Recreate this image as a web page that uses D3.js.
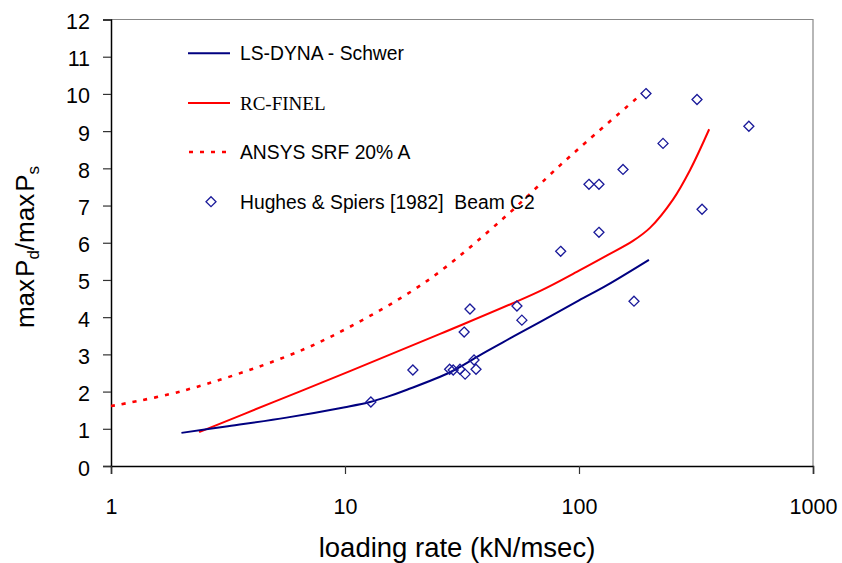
<!DOCTYPE html>
<html><head><meta charset="utf-8">
<script src="https://cdn.jsdelivr.net/npm/d3@7"></script>
<style>
html,body{margin:0;padding:0;background:#fff;}
svg text{fill:#000;}
</style></head>
<body><svg id="c" width="842" height="563"></svg>
<script>
// ---- data ----
const xTicks = [1, 10, 100, 1000];
const yTicks = [0,1,2,3,4,5,6,7,8,9,10,11,12];

const lsdynaX = [2, 3.16, 5.62, 10, 12.8, 15, 18.4, 28.1, 38.9, 50.7, 68, 100, 131.8, 199];
const lsdynaY = [0.89, 1.07, 1.30, 1.58, 1.72, 1.85, 2.05, 2.52, 3.03, 3.43, 3.87, 4.45, 4.86, 5.54];

const rcX = [2.38, 5, 10.5, 25.5, 68, 100, 131.8, 170, 201, 252, 298, 360];
const rcY = [0.91, 1.73, 2.55, 3.55, 4.70, 5.25, 5.66, 6.05, 6.40, 7.16, 7.95, 9.05];

const ansysX = [1, 2, 5.65, 10.2, 22.6, 47.4, 83, 108, 186];
const ansysY = [1.61, 2.01, 2.95, 3.70, 4.99, 6.65, 8.08, 8.72, 10.01];

const hughesX = [12.9, 19.5, 28.0, 29.0, 31.0, 32.6, 35.6, 36.3, 32.3, 34.2, 54.3, 57.0, 83.5, 121.7, 171.8, 335.6, 110.3, 121.7, 154.2, 228.6, 193.3, 319.4, 532];
const hughesY = [1.72, 2.58, 2.60, 2.58, 2.60, 2.47, 2.85, 2.60, 3.60, 4.22, 4.30, 3.92, 5.77, 6.28, 4.43, 6.90, 7.57, 7.57, 7.97, 8.67, 10.01, 9.85, 9.13];

const seriesNames = ["LS-DYNA - Schwer", "RC-FINEL", "ANSYS SRF 20% A", "Hughes & Spiers [1982]  Beam C2"];

// ---- layout ----
const SANS = "Arial, 'Liberation Sans', sans-serif";
const SERIF = "'Times New Roman', 'Liberation Serif', serif";
const L = 111, R = 813, T = 19.5, B = 466;
const svg = d3.select("#c");
const x = d3.scaleLog().domain([1, 1000]).range([L, R]);
const y = d3.scaleLinear().domain([0, 12]).range([B, T]);

// plot frame (top/right grey)
svg.append("path").attr("d", `M${L},${T}H${R}V${B}`).attr("fill","none").attr("stroke","#888").attr("stroke-width",1.2);

// axes
const yAxis = d3.axisLeft(y).tickValues(yTicks).tickSize(8).tickPadding(13).tickFormat(d3.format("d"));
const gy = svg.append("g").attr("transform", `translate(${L},0)`).call(yAxis);
gy.select(".domain").attr("stroke","#000").attr("stroke-width",1.5);
gy.selectAll(".tick line").attr("stroke","#333").attr("stroke-width",1.2);
gy.selectAll(".tick text").style("font-size","21.5px").style("font-family",SANS).attr("dy","0.42em");

const xAxis = d3.axisBottom(x).tickValues(xTicks).tickSize(8).tickPadding(25).tickFormat(d3.format("d"));
const gx = svg.append("g").attr("transform", `translate(0,${B})`).call(xAxis);
gx.select(".domain").attr("stroke","#000").attr("stroke-width",1.5);
gx.selectAll(".tick line").attr("stroke","#333").attr("stroke-width",1.2);
gx.selectAll(".tick text").style("font-size","21.5px").style("font-family",SANS);

// axis titles
svg.append("text").attr("x", 457).attr("y", 557).attr("text-anchor","middle")
  .style("font-family",SANS).style("font-size","27.5px").text("loading rate (kN/msec)");
const yl = svg.append("text").attr("transform","translate(34,247) rotate(-90)").attr("text-anchor","middle")
  .style("font-family",SANS).style("font-size","26px");
yl.append("tspan").text("max");
yl.append("tspan").attr("dx",2).text("P");
yl.append("tspan").style("font-size","17px").attr("dy",5).text("d");
yl.append("tspan").attr("dy",-5).text("/max");
yl.append("tspan").attr("dx",2).text("P");
yl.append("tspan").style("font-size","17px").attr("dy",5).text("s");

// lines
const line = d3.line().x(d => x(d[0])).y(d => y(d[1])).curve(d3.curveCatmullRom.alpha(0.5));
const zip = (a,b) => a.map((v,i)=>[v,b[i]]);

svg.append("path").attr("d", line(zip(ansysX, ansysY))).attr("fill","none")
  .attr("stroke","#ff0000").attr("stroke-width",2.6).attr("stroke-dasharray","4,7");
svg.append("path").attr("d", line(zip(rcX, rcY))).attr("fill","none")
  .attr("stroke","#ff0000").attr("stroke-width",2);
svg.append("path").attr("d", line(zip(lsdynaX, lsdynaY))).attr("fill","none")
  .attr("stroke","#000080").attr("stroke-width",2);

const diamond = "M0,-5L5,0L0,5L-5,0Z";
svg.append("g").selectAll("path").data(zip(hughesX, hughesY)).join("path")
  .attr("transform", d => `translate(${x(d[0])},${y(d[1])})`)
  .attr("d", diamond).attr("fill","none").attr("stroke","#1a1a9a").attr("stroke-width",1.3);

// legend
const lg = svg.append("g");
const rows = [53.3, 103, 152, 201.7];
lg.append("line").attr("x1",188).attr("x2",230).attr("y1",rows[0]).attr("y2",rows[0]).attr("stroke","#000080").attr("stroke-width",2);
lg.append("line").attr("x1",188).attr("x2",230).attr("y1",rows[1]).attr("y2",rows[1]).attr("stroke","#ff0000").attr("stroke-width",2);
lg.append("line").attr("x1",189).attr("x2",231).attr("y1",rows[2]).attr("y2",rows[2]).attr("stroke","#ff0000").attr("stroke-width",2.6).attr("stroke-dasharray","4,7");
lg.append("path").attr("transform",`translate(211,${rows[3]})`).attr("d",diamond).attr("fill","none").attr("stroke","#1a1a9a").attr("stroke-width",1.3);
seriesNames.forEach((n,i) => {
  lg.append("text").attr("x",240).attr("y",rows[i]+7)
    .style("font-family", i===1 ? SERIF : SANS)
    .style("font-size", i===1 ? "19px" : "19.3px")
    .style("white-space","pre").text(n);
});
</script></body></html>
